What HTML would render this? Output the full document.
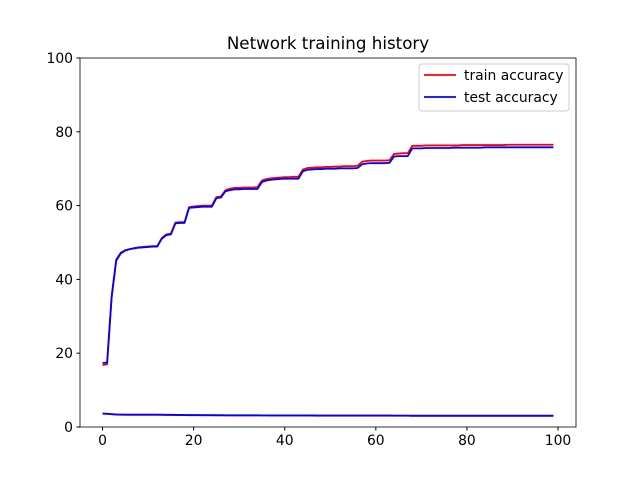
<!DOCTYPE html>
<html><head><meta charset="utf-8"><style>
body{margin:0;background:#fff}
svg text{font-family:"DejaVu Sans","Liberation Sans",sans-serif;fill:#000}
</style></head><body>
<svg id="chart" width="640" height="480">
<rect width="640" height="480" fill="#fff"/>
<text x="328" y="49" font-size="16.7" text-anchor="middle">Network training history</text>
<g id="plot"></g>
<g id="axes"></g>
<g>
<rect x="419" y="64" width="150" height="47" fill="#fff" stroke="#ccc" rx="3"/>
<line x1="424" y1="75" x2="456" y2="75" stroke="red" stroke-width="1.8"/>
<text x="464" y="80" font-size="13.9">train accuracy</text>
<line x1="424" y1="97" x2="456" y2="97" stroke="blue" stroke-width="1.8"/>
<text x="464" y="102" font-size="13.9">test accuracy</text>
</g>
</svg>
<script>
const xTicks=[0,20,40,60,80,100];
const yTicks=[0,20,40,60,80,100];
const trainAcc=[16.8,17,35,45,47,47.8,48.2,48.5,48.7,48.8,48.9,49,49,51.2,52.2,52.4,55.4,55.5,55.5,59.6,59.8,59.9,60,60,60,62.3,62.5,64.2,64.6,64.8,64.8,64.9,64.9,64.9,65,66.8,67.2,67.4,67.5,67.6,67.7,67.7,67.8,67.8,69.8,70.2,70.3,70.4,70.4,70.5,70.5,70.6,70.6,70.7,70.7,70.7,70.8,71.9,72.1,72.2,72.2,72.2,72.2,72.3,74,74.1,74.2,74.2,76.2,76.2,76.2,76.3,76.3,76.3,76.3,76.3,76.3,76.3,76.3,76.4,76.4,76.4,76.4,76.4,76.4,76.4,76.4,76.4,76.4,76.5,76.5,76.5,76.5,76.5,76.5,76.5,76.5,76.5,76.5,76.5];
const testAcc=[17.3,17.5,35.5,45.3,47.2,47.9,48.2,48.4,48.6,48.7,48.8,48.9,48.9,51,52,52.2,55.2,55.3,55.3,59.4,59.5,59.6,59.7,59.7,59.7,62,62.2,63.9,64.2,64.4,64.4,64.5,64.5,64.5,64.5,66.4,66.8,67,67.1,67.2,67.3,67.3,67.3,67.3,69.3,69.7,69.8,69.9,69.9,70,70,70,70.1,70.1,70.1,70.1,70.2,71.2,71.4,71.5,71.5,71.5,71.5,71.6,73.3,73.4,73.4,73.4,75.5,75.5,75.5,75.6,75.6,75.6,75.6,75.6,75.6,75.7,75.7,75.7,75.7,75.7,75.7,75.7,75.8,75.8,75.8,75.8,75.8,75.8,75.8,75.8,75.8,75.8,75.8,75.8,75.8,75.8,75.8,75.8];
const trainLoss=[3.6,3.55,3.45,3.35,3.32,3.3,3.3,3.3,3.3,3.3,3.3,3.3,3.3,3.28,3.26,3.25,3.23,3.22,3.21,3.19,3.18,3.18,3.17,3.17,3.17,3.15,3.15,3.14,3.13,3.13,3.13,3.13,3.13,3.13,3.13,3.11,3.11,3.1,3.1,3.1,3.1,3.1,3.1,3.1,3.08,3.08,3.08,3.07,3.07,3.07,3.07,3.07,3.07,3.07,3.07,3.07,3.07,3.06,3.06,3.06,3.06,3.06,3.06,3.06,3.04,3.04,3.04,3.04,3.02,3.02,3.02,3.02,3.02,3.02,3.02,3.02,3.02,3.02,3.02,3.02,3.02,3.02,3.02,3.02,3.01,3.01,3.01,3.01,3.01,3.01,3.01,3.01,3.01,3.01,3.01,3.01,3.01,3.01,3.01,3.01];
const testLoss=trainLoss.map(v=>v+0.05);
const X0=80,X1=576,Y0=58,Y1=427,xmin=-4.95,xmax=103.95,ymin=0,ymax=100;
const sx=v=>X0+(v-xmin)/(xmax-xmin)*(X1-X0);
const sy=v=>Y1-(v-ymin)/(ymax-ymin)*(Y1-Y0);
const NS="http://www.w3.org/2000/svg";
const plot=document.getElementById('plot'),axes=document.getElementById('axes');
function line(arr,color,name){
 const p=document.createElementNS(NS,'polyline');
 p.setAttribute('points',arr.map((v,i)=>sx(i)+','+sy(v)).join(' '));
 p.setAttribute('fill','none');p.setAttribute('stroke',color);p.setAttribute('stroke-width','1.8');
 p.setAttribute('stroke-linejoin','round');
 
 
 plot.appendChild(p);
}
line(trainAcc,'red','train-accuracy-line');
line(testAcc,'blue','test-accuracy-line');
line(trainLoss,'red','train-loss-line');
line(testLoss,'blue','test-loss-line');
const frame=document.createElementNS(NS,'rect');
frame.setAttribute('x',X0);frame.setAttribute('y',Y0);frame.setAttribute('width',X1-X0);frame.setAttribute('height',Y1-Y0);
frame.setAttribute('fill','none');frame.setAttribute('stroke','#000');frame.setAttribute('stroke-width','0.8');


axes.appendChild(frame);
xTicks.forEach(t=>{
 const x=sx(t);
 const l=document.createElementNS(NS,'line');
 l.setAttribute('x1',x);l.setAttribute('x2',x);l.setAttribute('y1',Y1);l.setAttribute('y2',Y1+3.5);l.setAttribute('stroke','#000');
 
 
 axes.appendChild(l);
 const tx=document.createElementNS(NS,'text');
 tx.setAttribute('x',x);tx.setAttribute('y',Y1+18);tx.setAttribute('font-size','13.9');tx.setAttribute('text-anchor','middle');
 tx.textContent=t;
 
 
 axes.appendChild(tx);
});
yTicks.forEach(t=>{
 const y=sy(t);
 const l=document.createElementNS(NS,'line');
 l.setAttribute('x1',X0-3.5);l.setAttribute('x2',X0);l.setAttribute('y1',y);l.setAttribute('y2',y);l.setAttribute('stroke','#000');
 
 
 axes.appendChild(l);
 const tx=document.createElementNS(NS,'text');
 tx.setAttribute('x',X0-7);tx.setAttribute('y',y+5);tx.setAttribute('font-size','13.9');tx.setAttribute('text-anchor','end');
 tx.textContent=t;
 
 
 axes.appendChild(tx);
});
</script>
</body></html>
